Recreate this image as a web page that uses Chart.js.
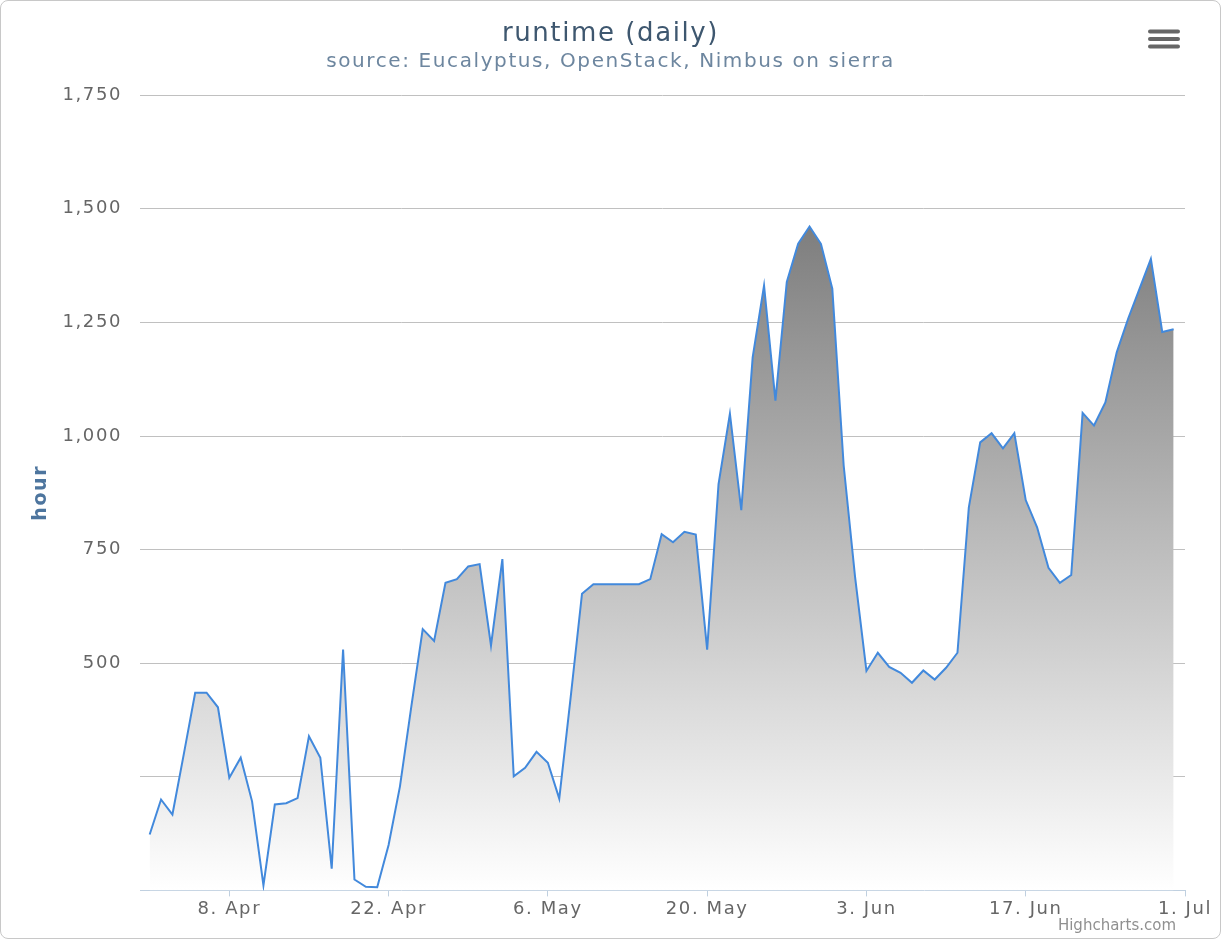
<!DOCTYPE html>
<html>
<head>
<meta charset="utf-8">
<script src="https://cdn.jsdelivr.net/npm/chart.js@4"></script>
<style>
body { margin: 0; background: #fff; }
#wrap { width: 1219px; height: 937px; border: 1px solid #c8c8c8; border-radius: 8px; overflow: hidden; }
</style>
</head>
<body>
<div id="wrap"><canvas id="runtime_chart" width="1219" height="937"></canvas></div>
<script>
// daily runtime in hours, 1 Apr .. 30 Jun
const runtime = [
  123, 200, 167, 300, 435, 435, 403, 248, 292, 196,
  11, 189, 192, 203, 339, 292, 48, 530, 24, 8,
  7, 100, 229, 405, 575, 549, 677, 685, 713, 718,
  539, 729, 251, 270, 305, 281, 202, 424, 653, 674,
  674, 674, 674, 674, 685, 784, 766, 789, 783, 530,
  894, 1049, 837, 1173, 1331, 1078, 1339, 1423, 1461, 1423,
  1324, 935, 690, 483, 523, 492, 479, 457, 484, 464,
  490, 523, 843, 986, 1006, 973, 1006, 859, 799, 710,
  677, 694, 1051, 1023, 1074, 1184, 1258, 1324, 1390, 1229,
  1235
];
// day offsets from 1 Apr and their labels
const tickDays = [7, 21, 35, 49, 63, 77, 91];
const tickLabels = ['8. Apr', '22. Apr', '6. May', '20. May', '3. Jun', '17. Jun', '1. Jul'];
const yTicks = [0, 250, 500, 750, 1000, 1250, 1500, 1750];

const FONT = 'DejaVu Sans';
const SPACING = '1.6px';

function areaFill(context) {
    const chart = context.chart;
    const area = chart.chartArea;
    if (!area) return 'rgba(0,0,0,0)';
    const top = chart.scales.y.getPixelForValue(Math.max(...runtime));
    const g = chart.ctx.createLinearGradient(0, top, 0, area.bottom);
    g.addColorStop(0, 'rgb(126,126,126)');
    g.addColorStop(1, 'rgb(255,255,255)');
    return g;
}

// the exported picture has slightly wide-set text
const spacing = {
    id: 'spacing',
    beforeLayout(chart) { chart.ctx.letterSpacing = SPACING; },
    beforeDraw(chart) { chart.ctx.letterSpacing = SPACING; }
};

const extras = {
    id: 'extras',
    afterDraw(chart) {
        const ctx = chart.ctx;
        ctx.save();
        // export menu icon
        ctx.fillStyle = '#666';
        for (let k = 0; k < 3; k++) {
            ctx.beginPath();
            ctx.roundRect(1147, 28.5 + k * 7.5, 32, 4, 2);
            ctx.fill();
        }
        // credits
        ctx.letterSpacing = '0px';
        ctx.font = '15px ' + FONT;
        ctx.fillStyle = '#909090';
        ctx.textAlign = 'right';
        ctx.textBaseline = 'alphabetic';
        ctx.fillText('Highcharts.com', 1175, 929);
        ctx.restore();
    }
};

const ctx = document.getElementById('runtime_chart').getContext('2d');
new Chart(ctx, {
    type: 'line',
    data: {
        datasets: [{
            label: 'runtime',
            data: runtime.map((v, i) => ({ x: i, y: v })),
            borderColor: '#4289dc',
            borderWidth: 2,
            backgroundColor: areaFill,
            fill: 'origin',
            pointRadius: 0,
            tension: 0
        }]
    },
    options: {
        responsive: false,
        animation: false,
        devicePixelRatio: 1,
        layout: { padding: { left: 0, right: 0, top: 0, bottom: 16 } },
        plugins: {
            legend: { display: false },
            tooltip: { enabled: false },
            title: {
                display: true,
                text: 'runtime (daily)',
                color: '#3E576F',
                font: { family: FONT, size: 26, weight: 'normal' },
                padding: { top: 18, bottom: 0 }
            },
            subtitle: {
                display: true,
                text: 'source: Eucalyptus, OpenStack, Nimbus on sierra',
                color: '#6D869F',
                font: { family: FONT, size: 20, weight: 'normal' },
                padding: { top: 0, bottom: 21 }
            }
        },
        scales: {
            x: {
                type: 'linear',
                min: -0.85,
                max: 91,
                afterBuildTicks: (axis) => { axis.ticks = tickDays.map(v => ({ value: v })); },
                ticks: {
                    autoSkip: false,
                    maxRotation: 0,
                    padding: 2,
                    color: '#666',
                    font: { family: FONT, size: 18 },
                    callback: (value) => tickLabels[tickDays.indexOf(value)]
                },
                grid: { drawOnChartArea: false, color: '#C0D0E0', tickLength: 6 },
                border: { color: '#C0D0E0', width: 1 }
            },
            y: {
                min: 0,
                max: 1750,
                afterBuildTicks: (axis) => { axis.ticks = yTicks.map(v => ({ value: v })); },
                afterFit: (scale) => { scale.width = 139; },
                ticks: {
                    padding: 18,
                    color: '#666',
                    font: { family: FONT, size: 18 },
                    callback: (v) => (v === 0 || v === 250) ? '' : v.toLocaleString('en-US')
                },
                grid: {
                    drawTicks: false,
                    color: (c) => c.tick && c.tick.value === 0 ? 'rgba(0,0,0,0)' : '#C0C0C0'
                },
                border: { display: false },
                title: {
                    display: true,
                    text: 'hour',
                    color: '#4D759E',
                    font: { family: FONT, size: 19, weight: 'bold' },
                    padding: { top: 29, bottom: 0 }
                }
            },
            // empty right margin so the title is centred on the whole chart
            side: {
                type: 'linear',
                position: 'right',
                afterFit: (scale) => { scale.width = 35; },
                ticks: { display: false },
                grid: { display: false },
                border: { display: false }
            }
        }
    },
    plugins: [spacing, extras]
});
</script>
</body>
</html>
